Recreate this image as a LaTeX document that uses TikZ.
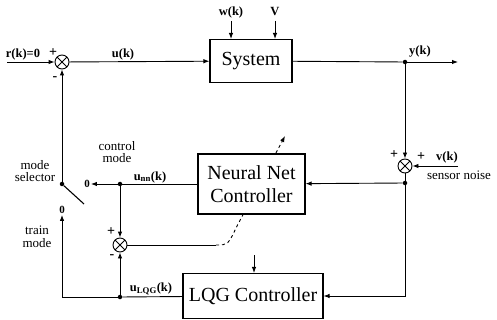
\documentclass[tikz,border=0pt]{standalone}
\usepackage{fontspec}
\setmainfont{Liberation Serif}
\usetikzlibrary{arrows.meta, positioning, backgrounds}

\begin{document}
\begin{tikzpicture}[
      x=1pt, y=-1pt,
      block/.style={
        draw,
        line width=1.1pt,
        fill=white,
        align=center,
        inner sep=0pt,
        font=\fontsize{20}{23}\selectfont
      },
      sumnode/.style={
        draw,
        circle,
        line width=0.9pt,
        minimum size=14pt,
        inner sep=0pt,
        path picture={
          \draw[line width=0.8pt] (path picture bounding box.north west) -- (path picture bounding box.south east)
                (path picture bounding box.north east) -- (path picture bounding box.south west);
        }
      },
      junction/.style={circle, fill, inner sep=0pt, minimum size=4.5pt},
      sig/.style={font=\bfseries\fontsize{12.5}{13}\selectfont, inner sep=1pt},
      sign/.style={font=\bfseries\fontsize{14}{14}\selectfont, inner sep=0pt},
      note/.style={font=\fontsize{13}{12.5}\selectfont, align=center, inner sep=0pt},
      flow/.style={-{Latex[length=6pt, width=4.5pt]}, line width=0.9pt},
      wire/.style={line width=0.9pt}
    ]
    \useasboundingbox (0,0) rectangle (497,320);

    % main loop
    \coordinate (rin) at (7,62);
    \node[sumnode] (s1) at (62,62) {};
    \node[block, minimum width=82pt, minimum height=43pt] (sys) at (251,61) {System};
    \node[junction] (ydot) at (405,62) {};
    \coordinate (yout) at (458,62);
    \coordinate (wtop) at (231,21);
    \coordinate (vtop) at (275,21);

    % sensor noise
    \node[sumnode] (s2) at (405,166) {};
    \coordinate (vin) at (458,166);
    \node[junction] (fbdot) at (405,183) {};

    % controllers
    \node[block, minimum width=107pt, minimum height=60pt] (nn) at (251.5,184) {Neural Net\\Controller};
    \node[block, minimum width=140pt, minimum height=45pt] (lqg) at (253,296) {LQG Controller};
    \coordinate (lqgin) at (254,255);

    % mode selector
    \node[junction] (piv) at (62,184) {};
    \coordinate (blade) at (84,204);
    \node[sig, font=\bfseries\fontsize{11}{11}\selectfont] (c0) at (87,184) {0};
    \node[junction] (undot) at (120,184) {};
    \node[sig, font=\bfseries\fontsize{11}{11}\selectfont] (t0) at (62,210) {0};
    \coordinate (trcorner) at (62,297);

    % error between the two controllers
    \node[sumnode] (s3) at (120,245) {};
    \node[junction] (uldot) at (120,297) {};
    \coordinate (adapt0) at (216,245);
    \coordinate (adapt1) at (228,245);
    \coordinate (adapt2) at (237,226);
    \coordinate (adapt3) at (285,136);

    \begin{scope}[on background layer]
      \draw[flow, dashed] (adapt0) .. controls (adapt1) .. (adapt2) -- (adapt3);
    \end{scope}

    \draw[flow] (rin) -- (s1);
    \draw[flow] (s1) -- (sys);
    \draw[flow] (wtop) -- (wtop |- sys.north);
    \draw[flow] (vtop) -- (vtop |- sys.north);
    \draw[wire] (sys) -- (ydot);
    \draw[flow] (ydot) -- (yout);
    \draw[flow] (ydot) -- (s2);
    \draw[flow] (vin) -- (s2);
    \draw[wire] (s2) -- (fbdot);
    \draw[flow] (fbdot) -- (nn);
    \draw[flow] (fbdot) |- (lqg);
    \draw[flow] (lqgin) -- (lqgin |- lqg.north);

    \draw[wire] (nn) -- (undot);
    \draw[flow] (undot) -- (c0);
    \draw[flow] (undot) -- (s3);
    \draw[wire] (lqg) -- (uldot);
    \draw[wire] (uldot) -- (trcorner);
    \draw[flow] (trcorner) -- (t0);
    \draw[flow] (uldot) -- (s3);
    \draw[wire] (s3) -- (adapt0);
    \draw[flow] (piv) -- (s1);
    \draw[line width=1.1pt] (piv) -- (blade);

    % labels
    \node[sig] (rlbl) at (23,54) {r(k)=0};
    \node[sign] (s1plus) at (53,53) {+};
    \node[sign] (s1minus) at (55,79) {-};
    \node[sig] (ulbl) at (123,54) {u(k)};
    \node[sig] (wlbl) at (231,12) {w(k)};
    \node[sig] (vlbl) at (275,12) {V};
    \node[sig] (ylbl) at (420,52) {y(k)};
    \node[sign] (s2plusa) at (394,155) {+};
    \node[sign] (s2plusb) at (421,157) {+};
    \node[sig] (vklbl) at (447,157) {v(k)};
    \node[note] (noiselbl) at (459,175) {sensor noise};
    \node[note] (ctrlmode) at (117,152) {control\\mode};
    \node[note] (selector) at (35,171) {mode\\selector};
    \node[note] (trainmode) at (37,237) {train\\mode};
    \node[sig] (unnlbl) at (150,177) {u\textsubscript{nn}(k)};
    \node[sign] (s3plus) at (111,232) {+};
    \node[sign] (s3minus) at (112,257) {-};
    \node[sig] (ulqglbl) at (151,289) {u\textsubscript{LQG}(k)};
  \end{tikzpicture}
\end{document}
